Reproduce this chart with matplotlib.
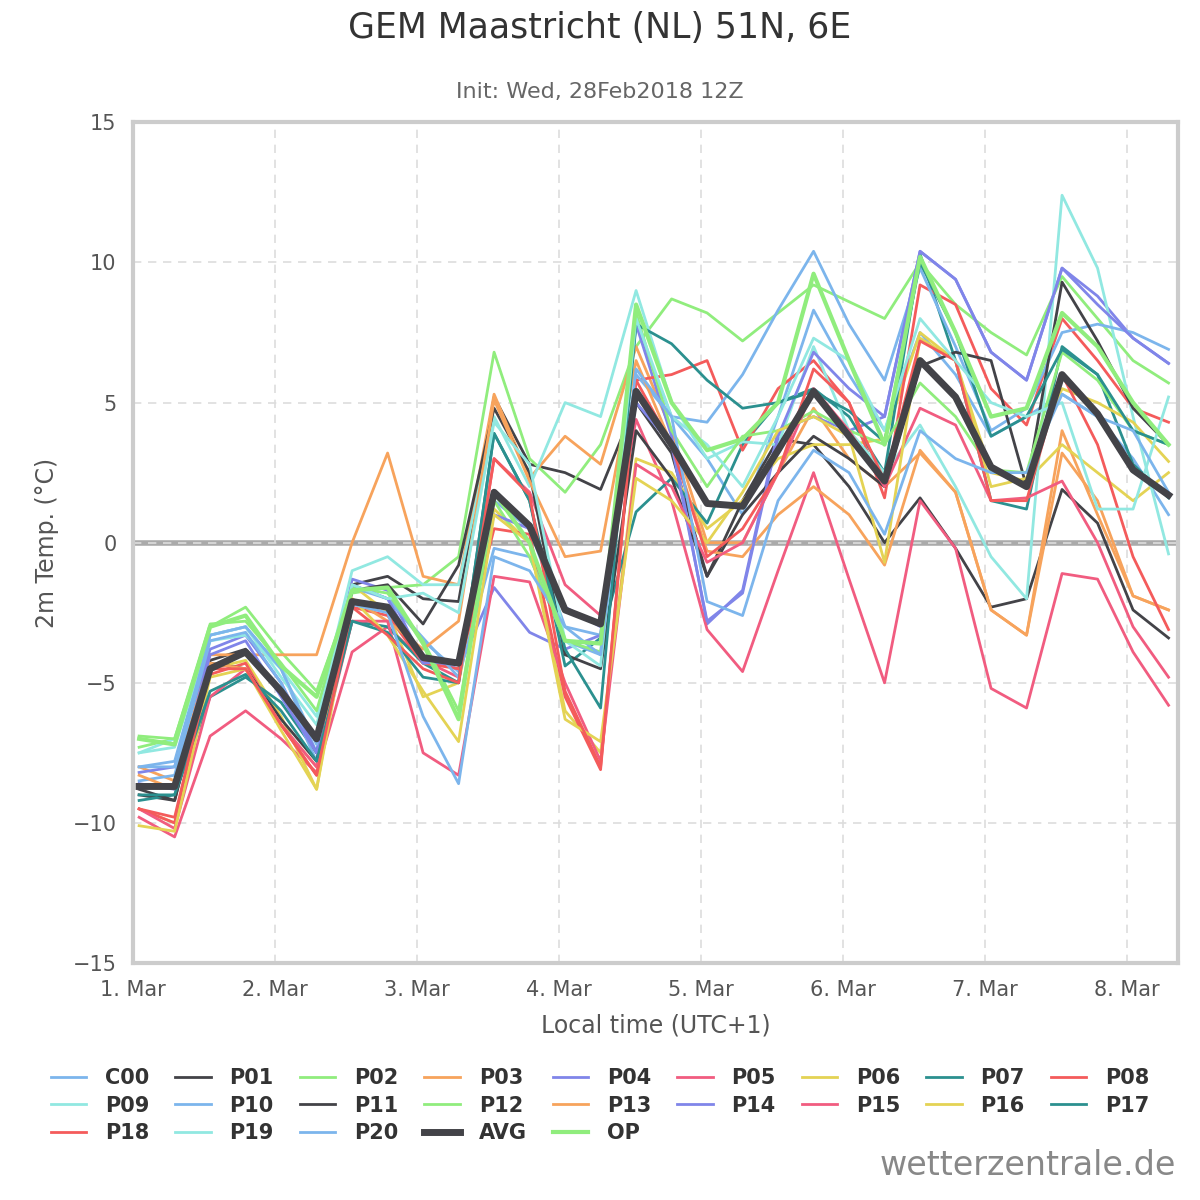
import matplotlib
matplotlib.use('Agg')
import matplotlib.pyplot as plt
import matplotlib.dates as mdates
import numpy as np
import datetime as dt

start = dt.datetime(2018, 3, 1, 1)
times = [start + dt.timedelta(hours=6 * k) for k in range(30)]

members = {
    'C00': [-8.0,-7.8,-3.3,-3.0,-4.5,-7.5,-1.5,-2.0,-3.5,-4.6,1.5,0.5,-3.0,-3.3,7.8,4.5,3.0,1.0,4.5,8.3,6.0,4.0,7.5,6.0,3.8,4.5,5.3,4.5,3.0,1.0],
    'P01': [-9.0,-9.2,-4.2,-3.8,-5.3,-7.0,-1.5,-1.2,-2.0,-2.1,5.2,2.8,2.5,1.9,5.0,3.2,-1.2,1.5,3.7,3.5,2.0,0.0,1.6,-0.2,-2.3,-2.0,1.9,0.7,-2.4,-3.4],
    'P02': [-7.3,-7.0,-3.0,-2.3,-3.9,-5.3,-1.8,-1.6,-1.5,-0.5,6.8,3.0,1.8,3.5,7.0,8.7,8.2,7.2,8.2,9.2,8.6,8.0,10.0,8.5,7.5,6.7,9.5,8.0,6.5,5.7],
    'P03': [-8.0,-8.5,-4.0,-4.0,-4.0,-4.0,0.0,3.2,-1.2,-1.5,5.3,2.3,3.8,2.8,7.0,4.0,0.0,0.0,2.5,4.8,3.0,2.0,3.2,1.8,-2.4,-3.3,4.0,1.0,-1.9,-2.4],
    'P04': [-8.2,-8.0,-3.8,-3.3,-5.0,-7.5,-1.3,-1.7,-4.2,-4.5,-1.6,-3.2,-3.8,-3.3,7.8,3.8,-2.9,-1.7,4.0,4.5,4.0,4.5,10.4,9.4,6.8,5.8,9.8,8.8,7.3,6.4],
    'P05': [-9.8,-10.5,-6.9,-6.0,-7.0,-8.2,-3.9,-3.0,-4.2,-4.8,3.0,1.8,-1.5,-2.6,4.4,1.5,-3.1,-4.6,-1.0,2.5,-1.3,-5.0,1.5,-0.2,-5.2,-5.9,-1.1,-1.3,-3.9,-5.8],
    'P06': [-9.5,-10.0,-4.5,-4.2,-6.2,-8.8,-1.5,-2.5,-5.5,-5.0,1.2,0.0,-6.0,-7.5,3.0,2.5,0.5,1.5,3.0,3.5,3.5,3.7,7.5,6.5,2.5,2.2,3.5,2.5,1.5,2.5],
    'P07': [-9.2,-9.0,-5.5,-4.8,-5.7,-7.5,-2.8,-3.0,-4.3,-5.0,3.9,1.5,-4.4,-3.4,1.1,2.3,0.7,3.5,5.0,5.5,4.5,2.5,10.3,6.5,1.5,1.2,7.0,6.0,2.8,1.6],
    'P08': [-9.5,-10.0,-4.7,-4.3,-6.5,-8.3,-2.3,-2.6,-4.3,-4.5,0.5,0.3,-5.5,-8.1,5.8,6.0,6.5,3.3,5.5,6.5,5.0,1.6,9.2,8.5,5.5,4.2,8.0,6.5,4.8,4.3],
    'P09': [-7.5,-7.0,-3.5,-3.3,-4.5,-6.2,-1.0,-0.5,-1.5,-1.5,4.5,2.0,5.0,4.5,9.0,5.0,3.0,3.6,3.5,7.0,4.0,2.5,4.2,2.0,-0.5,-2.0,12.4,9.8,4.5,-0.4],
    'P10': [-8.5,-8.3,-3.5,-3.2,-5.0,-7.8,-1.6,-2.0,-3.4,-4.8,-0.2,-0.5,-3.5,-4.0,6.0,4.5,4.3,6.0,8.3,10.4,7.8,5.8,9.8,7.0,4.0,4.8,7.5,7.8,7.5,6.9],
    'P11': [-8.8,-9.2,-4.3,-4.5,-6.3,-7.8,-1.7,-1.5,-2.9,-0.8,4.8,2.5,-4.0,-4.5,4.0,2.3,-1.2,1.0,2.5,3.8,3.0,2.0,6.3,6.8,6.5,2.0,9.3,7.2,4.8,3.5],
    'P12': [-6.9,-7.0,-2.9,-2.8,-4.3,-6.0,-1.6,-1.8,-3.5,-6.0,1.5,-0.5,-3.5,-3.9,8.2,4.0,2.0,3.8,4.0,4.7,4.0,3.5,5.7,4.5,2.6,2.5,6.8,5.8,4.0,3.5],
    'P13': [-8.3,-8.8,-4.3,-4.5,-6.5,-8.0,-2.0,-2.8,-3.8,-2.8,5.1,2.2,-0.5,-0.3,6.5,3.5,-0.3,-0.5,1.0,2.0,1.0,-0.8,3.3,1.8,-2.4,-3.3,3.2,1.5,-1.9,-2.4],
    'P14': [-8.6,-8.8,-4.0,-3.5,-5.5,-7.5,-1.5,-2.0,-4.3,-4.2,1.0,0.5,-2.3,-3.0,5.0,3.5,-2.8,-1.8,3.8,6.8,5.5,4.5,10.4,9.4,6.8,5.8,9.8,8.5,7.3,6.4],
    'P15': [-9.5,-10.2,-5.5,-4.5,-6.5,-8.0,-2.8,-2.8,-7.5,-8.3,-1.2,-1.4,-5.0,-7.8,2.8,2.0,-0.7,0.0,2.5,5.5,4.0,2.0,4.8,4.2,1.5,1.6,2.2,0.0,-3.0,-4.8],
    'P16': [-10.1,-10.3,-4.8,-4.5,-6.7,-8.8,-2.0,-3.3,-5.3,-7.1,1.0,0.0,-6.3,-7.1,2.3,1.5,0.0,1.8,4.0,4.5,3.8,-0.7,7.3,6.5,2.0,2.3,5.5,5.0,4.3,2.9],
    'P17': [-9.0,-9.0,-5.3,-4.7,-6.0,-7.8,-2.8,-3.2,-4.8,-5.0,3.9,1.5,-3.8,-5.9,7.8,7.1,5.8,4.8,5.0,5.4,4.7,3.6,10.0,7.5,3.8,4.5,6.9,6.0,4.0,3.5],
    'P18': [-9.5,-9.8,-4.5,-4.5,-6.5,-8.3,-2.3,-3.3,-4.5,-5.0,3.0,1.7,-5.3,-8.0,5.8,3.5,-0.5,0.5,2.5,6.2,5.0,2.2,7.2,6.5,1.5,1.5,6.0,3.5,-0.5,-3.1],
    'P19': [-7.5,-7.3,-3.3,-3.0,-4.8,-6.5,-1.5,-2.0,-1.8,-2.5,4.3,2.8,-3.5,-4.4,8.0,4.5,3.5,2.0,4.5,7.3,6.5,4.0,8.0,6.5,5.0,4.5,5.0,1.2,1.2,5.2],
    'P20': [-8.0,-8.0,-3.3,-3.0,-4.5,-7.2,-2.2,-2.5,-6.2,-8.6,-0.5,-1.0,-3.0,-4.0,6.2,4.5,-2.1,-2.6,1.5,3.3,2.5,0.3,4.0,3.0,2.5,2.5,5.3,4.5,4.0,1.8],
}
avg = [-8.7,-8.7,-4.5,-3.9,-5.3,-7.0,-2.1,-2.3,-4.1,-4.3,1.8,0.6,-2.4,-2.9,5.4,3.5,1.4,1.3,3.3,5.4,3.8,2.2,6.5,5.2,2.7,2.0,6.0,4.6,2.6,1.7]
op = [-7.0,-7.2,-3.0,-2.6,-4.4,-5.5,-1.7,-1.6,-3.6,-6.3,1.8,0.0,-3.5,-3.6,8.5,5.0,3.3,3.7,5.0,9.6,6.5,3.5,10.2,7.5,4.5,4.8,8.2,7.0,5.0,3.5]

colors = ['#7cb5ec', '#434348', '#90ed7d', '#f7a35c', '#8085e9', '#f15c80',
          '#e4d354', '#2b908f', '#f45b5b', '#91e8e1']

fig = plt.figure(figsize=(12, 12), dpi=100)
ax = fig.add_axes([0.111, 0.1975, 0.871, 0.7005])

ax.axhline(0, color='#aaaaaa', lw=4, zorder=1)
handles = []
for i, (name, vals) in enumerate(members.items()):
    h, = ax.plot(times, vals, color=colors[i % 10], lw=2, label=name, zorder=2)
    handles.append(h)
h, = ax.plot(times, avg, color='#434348', lw=5, label='AVG', zorder=4)
handles.append(h)
h, = ax.plot(times, op, color='#90ed7d', lw=3, label='OP', zorder=3)
handles.append(h)

ax.set_ylim(-15, 15)
ax.set_yticks([-15, -10, -5, 0, 5, 10, 15])
ax.set_yticklabels(['\u221215', '\u221210', '\u22125', '0', '5', '10', '15'])
ax.set_xlim(dt.datetime(2018, 3, 1), dt.datetime(2018, 3, 8, 8, 40))
ax.xaxis.set_major_locator(mdates.DayLocator())
ax.xaxis.set_major_formatter(matplotlib.ticker.FuncFormatter(
    lambda x, p: '%d. Mar' % mdates.num2date(x).day))
ax.grid(True, color='#dddddd', ls=(0, (5, 4)), lw=1.2)
ax.tick_params(labelsize=15, colors='#555555', length=0, pad=12)
for s in ax.spines.values():
    s.set_color('#cccccc')
    s.set_linewidth(3)

ax.set_ylabel('2m Temp. (°C)', fontsize=17, color='#555555', labelpad=10)
ax.set_xlabel('Local time (UTC+1)', fontsize=17, color='#555555', labelpad=10)
fig.text(0.5, 0.977, 'GEM Maastricht (NL) 51N, 6E', ha='center', va='center',
         fontsize=25, color='#333333')
fig.text(0.5, 0.923, 'Init: Wed, 28Feb2018 12Z', ha='center', va='center',
         fontsize=16, color='#666666')

# legend fills by column, reorder so it reads row by row
order = []
for c in range(9):
    for r in range(3):
        k = c + 9 * r
        if k < len(handles):
            order.append(k)
leg = fig.legend([handles[k] for k in order], [handles[k].get_label() for k in order],
                 loc='lower center', bbox_to_anchor=(0.5, 0.032), ncol=9, frameon=False,
                 prop={'weight': 'bold', 'size': 15}, handlelength=1.7,
                 columnspacing=1.25, labelspacing=0.35, handletextpad=0.9)
for t in leg.get_texts():
    t.set_color('#333333')
fig.text(0.98, 0.015, 'wetterzentrale.de', ha='right', va='bottom', fontsize=24,
         color='#888888')

fig.savefig('out.png', dpi=100)
